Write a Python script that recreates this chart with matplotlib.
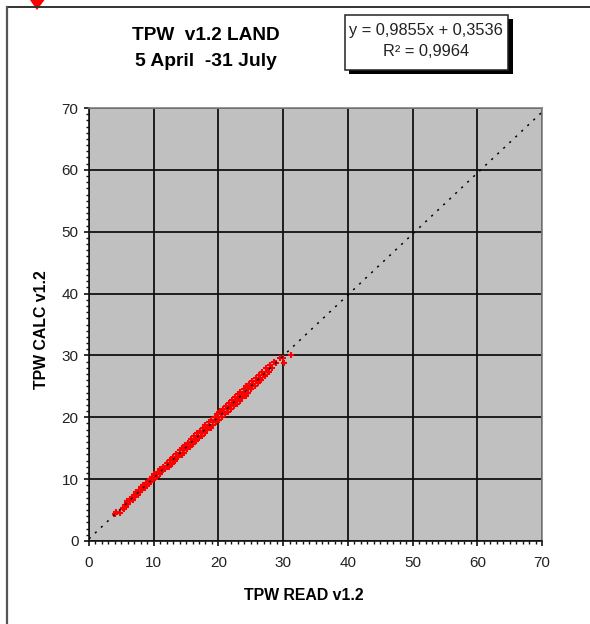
import matplotlib
matplotlib.use("Agg")
import matplotlib.pyplot as plt
from matplotlib.lines import Line2D
from matplotlib.patches import Polygon, Rectangle
from matplotlib.ticker import MultipleLocator

W, H = 590, 624

# values
tpw_read = [
    4.0, 4.2, 4.8, 5.2, 5.4, 5.6, 5.7, 5.9, 6.1, 6.3, 6.4, 6.6, 6.8, 7.0, 7.1, 7.3, 7.5, 7.7,
    7.9, 8.1, 8.2, 8.4, 8.6, 8.8, 9.0, 9.1, 9.3, 9.5, 9.6, 9.8, 9.9, 10.1, 10.2, 10.4, 10.5, 10.7,
    10.9, 11.0, 11.2, 11.4, 11.6, 11.8, 12.0, 12.1, 12.3, 12.5, 12.6, 12.8, 13.0, 13.1, 13.3, 13.5, 13.6, 13.8,
    14.0, 14.1, 14.3, 14.4, 14.6, 14.7, 14.9, 15.0, 15.2, 15.3, 15.5, 15.6, 15.8, 15.9, 16.1, 16.2, 16.4, 16.5,
    16.7, 16.8, 17.0, 17.1, 17.3, 17.4, 17.6, 17.7, 17.9, 18.0, 18.2, 18.3, 18.5, 18.6, 18.8, 18.9, 19.1, 19.2,
    19.4, 19.5, 19.7, 19.8, 20.0, 20.1, 20.3, 20.4, 20.6, 20.7, 20.9, 21.0, 21.2, 21.3, 21.5, 21.6, 21.8, 21.9,
    22.1, 22.2, 22.4, 22.5, 22.7, 22.8, 23.0, 23.1, 23.3, 23.4, 23.6, 23.7, 23.9, 24.0, 24.2, 24.3, 24.5, 24.6,
    24.8, 24.9, 25.1, 25.2, 25.4, 25.6, 25.8, 26.0, 26.1, 26.3, 26.5, 26.6, 26.8, 27.0, 27.2, 27.4, 27.6, 27.8,
    28.0, 28.3, 28.6, 28.9, 29.5, 30.0, 30.1, 31.2,
]
tpw_calc = [
    4.4, 4.7, 4.6, 5.4, 5.2, 5.9, 5.5, 6.4, 6.0, 6.8, 6.4, 7.1, 6.7, 7.5, 7.1, 7.9, 7.5, 8.2,
    7.9, 8.7, 8.2, 9.0, 8.6, 9.4, 9.0, 9.7, 9.2, 10.0, 9.6, 10.4, 9.9, 10.8, 10.2, 10.9, 10.4, 11.2,
    10.8, 11.6, 11.1, 12.0, 11.7, 11.6, 12.6, 12.2, 12.0, 13.1, 12.6, 12.5, 13.6, 13.2, 13.0, 14.1, 13.6, 13.5,
    14.7, 14.2, 13.9, 15.0, 14.8, 14.3, 15.5, 15.1, 14.8, 15.9, 15.6, 15.2, 16.5, 16.0, 15.7, 16.9, 16.4, 16.1,
    17.4, 16.9, 16.6, 17.8, 17.4, 17.0, 18.2, 17.8, 17.5, 18.7, 18.2, 17.9, 19.2, 18.7, 18.3, 19.6, 19.2, 18.8,
    20.1, 19.5, 19.2, 20.5, 20.0, 19.6, 21.0, 20.5, 20.1, 21.4, 20.9, 20.5, 21.9, 21.3, 20.9, 22.3, 21.8, 21.3,
    22.8, 22.2, 21.8, 23.2, 22.7, 22.2, 23.7, 23.1, 22.7, 24.1, 23.6, 23.1, 24.6, 24.0, 23.5, 25.0, 24.5, 24.0,
    25.4, 24.9, 24.5, 25.8, 25.4, 25.0, 26.4, 25.9, 25.5, 26.9, 26.4, 26.0, 27.3, 26.9, 26.7, 27.9, 27.4, 27.3,
    28.5, 28.0, 29.0, 28.8, 29.6, 29.6, 28.8, 30.1,
]
fit_x = [0, 70]
fit_y = [0.35, 69.34]
axis_ticks = [0, 10, 20, 30, 40, 50, 60, 70]

plt.rcParams["font.family"] = ["Liberation Sans", "DejaVu Sans"]


def fx(px):
    return px / W


def fy(py):
    return 1 - py / H


fig = plt.figure(figsize=(W / 100, H / 100), dpi=100, facecolor="white")
ax = fig.add_axes([fx(89), fy(541), (542 - 89) / W, (541 - 108) / H], facecolor="#c0c0c0")

ax.grid(True, which="major", color="#111111", lw=1.3, zorder=1)
ax.set_axisbelow(True)
ax.scatter(tpw_read, tpw_calc, marker="+", s=22, lw=1.5, color="#ff0000", zorder=3, clip_on=False)
ax.plot(fit_x, fit_y, color="black", lw=1.1, dashes=(1.4, 4.0), zorder=4)

ax.set_xlim(0, 70)
ax.set_ylim(0, 70)
ax.set_xticks(axis_ticks)
ax.set_yticks(axis_ticks)
ax.xaxis.set_minor_locator(MultipleLocator(1))
ax.yaxis.set_minor_locator(MultipleLocator(1))
ax.tick_params(which="major", length=3.6, width=1.2, color="#111111", labelsize=11, labelcolor="#222222")
ax.tick_params(which="minor", length=2.2, width=1, color="#111111")
ax.tick_params(axis="x", which="major", pad=7.4)
ax.tick_params(axis="y", which="major", pad=4)
for side in ("left", "bottom"):
    ax.spines[side].set_color("#111111")
    ax.spines[side].set_linewidth(1.2)
for side in ("top", "right"):
    ax.spines[side].set_color("#808080")
    ax.spines[side].set_linewidth(1.2)

fig.text(fx(304), fy(596), "TPW READ v1.2", fontsize=11.4, fontweight="bold", ha="center", va="center")
fig.text(fx(41), fy(330), "TPW CALC v1.2", fontsize=11.4, fontweight="bold", rotation=90, ha="center", va="center")

fig.text(fx(206), fy(36), "TPW  v1.2 LAND", fontsize=13.7, fontweight="bold", ha="center", va="center")
fig.text(fx(206), fy(61), "5 April  -31 July", fontsize=13.9, fontweight="bold", ha="center", va="center")

# equation box with its drop shadow
fig.add_artist(Rectangle((fx(349), fy(74)), 164 / W, 55 / H, transform=fig.transFigure, fc="black", ec="none"))
fig.add_artist(Rectangle((fx(345), fy(70)), 163 / W, 55 / H, transform=fig.transFigure, fc="white", ec="#222222", lw=1.1))
fig.text(fx(426), fy(31), "y = 0,9855x + 0,3536", fontsize=11.8, color="#222222", ha="center", va="center")
fig.text(fx(426), fy(52), "R² = 0,9964", fontsize=11.8, color="#222222", ha="center", va="center")

# outer frame, only top and left are in view
fig.add_artist(Line2D([fx(7), 1], [fy(7), fy(7)], transform=fig.transFigure, color="#333333", lw=1.4))
fig.add_artist(Line2D([fx(7), fx(7)], [fy(7), 0], transform=fig.transFigure, color="#555555", lw=1.6))

# red marker cut off by the top edge
fig.add_artist(Polygon([(fx(30), 1), (fx(44.5), 1), (fx(37), fy(10))], transform=fig.transFigure, fc="#ff0000", ec="none"))

fig.savefig("out.png", dpi=100)
